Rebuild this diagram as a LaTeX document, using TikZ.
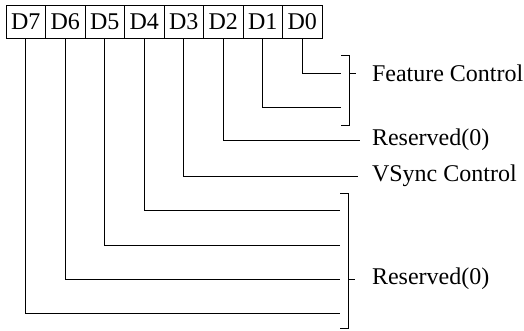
\documentclass[tikz,border=0pt]{standalone}
\usepackage{fontspec}
\setmainfont{Liberation Serif}
\begin{document}
\begin{tikzpicture}[x=1pt,y=-1pt,
  line width=1pt,
  cell/.style={draw,minimum width=39.5pt,minimum height=33pt,inner sep=0pt,outer sep=0pt,font=\fontsize{24}{26}\selectfont,anchor=north west},
  lab/.style={anchor=west,inner sep=0pt,font=\fontsize{24}{26}\selectfont}]
\useasboundingbox (0,0) rectangle (524,330);
% register cells
\node[cell] (d7) at (6,5) {D7};
\node[cell] (d6) at (45.5,5) {D6};
\node[cell] (d5) at (85,5) {D5};
\node[cell] (d4) at (124.5,5) {D4};
\node[cell] (d3) at (164,5) {D3};
\node[cell] (d2) at (203.5,5) {D2};
\node[cell] (d1) at (243,5) {D1};
\node[cell] (d0) at (282.5,5) {D0};
% end points
\coordinate (e0) at (341,73);
\coordinate (e1) at (341,107);
\coordinate (e2) at (360,140);
\coordinate (e3) at (358,176);
\coordinate (e4) at (340,210.7);
\coordinate (e5) at (340,245);
\coordinate (e6) at (340,279);
\coordinate (e7) at (340,313);
% connectors
\draw (d0.south) |- (e0);
\draw (d1.south) |- (e1);
\draw (d2.south) |- (e2);
\draw (d3.south) |- (e3);
\draw (d4.south) |- (e4);
\draw (d5.south) |- (e5);
\draw (d6.south) |- (e6);
\draw (d7.south) |- (e7);
% brackets
\coordinate (b1t) at (341,55.7);
\coordinate (b1b) at (341,125);
\draw (b1t) -- ++(8,0) -- ++(0,69.3) -- (b1b);
\coordinate (b1m) at (349,73);
\draw (b1m) -- ++(6.5,0);
\coordinate (b2t) at (340,193);
\coordinate (b2b) at (340,328.5);
\draw (b2t) -- ++(8,0) -- ++(0,135.5) -- (b2b);
\coordinate (b2m) at (348,279);
\draw (b2m) -- ++(7,0);
% labels
\node[lab] (lf) at (371.5,73) {Feature Control};
\node[lab] (lr1) at (371.5,140) {Reserved(0)};
\node[lab] (lv) at (371.5,176) {VSync Control};
\node[lab] (lr2) at (371.5,279) {Reserved(0)};
\end{tikzpicture}
\end{document}
